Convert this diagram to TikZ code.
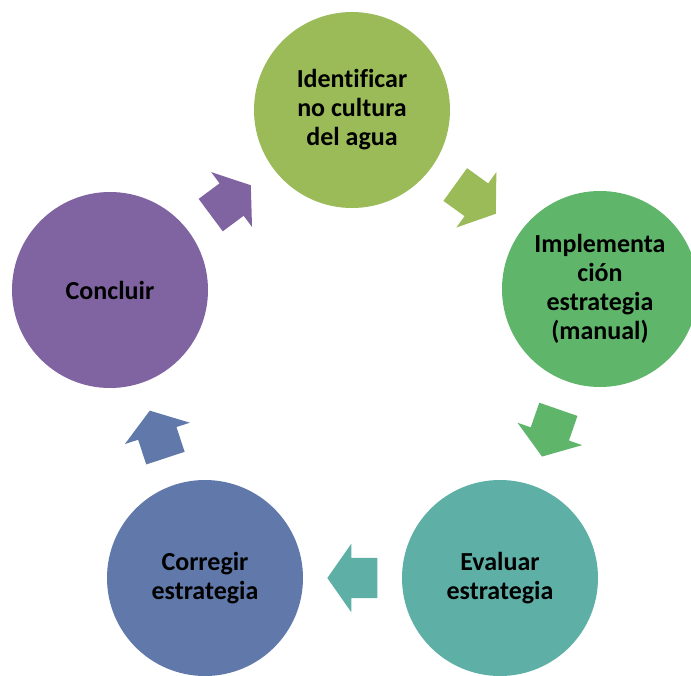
\documentclass[tikz,border=0pt]{standalone}
\usepackage{fontspec}
\setmainfont[Ligatures=NoCommon]{Carlito}
\usetikzlibrary{shapes.arrows}

\definecolor{OliveGreen}{RGB}{155,187,89}
\definecolor{LeafGreen}{RGB}{95,181,106}
\definecolor{SeaTeal}{RGB}{94,176,166}
\definecolor{SlateBlue}{RGB}{96,121,170}
\definecolor{Plum}{RGB}{128,100,162}

\tikzset{
  stage/.style={circle,minimum size=196pt,inner sep=0pt,align=center,
    font=\fontsize{26}{29}\selectfont\bfseries},
  turn/.style={single arrow,draw=none,fill=#1,inner xsep=0pt,inner ysep=20pt,
    minimum height=50pt,
    single arrow head extend=14pt,single arrow tip angle=110,
    sloped,allow upside down,pos=.43}
}

\begin{document}
\begin{tikzpicture}[x=1pt,y=-1pt]
\useasboundingbox (0,0) rectangle (691,675);
\clip (0,0) rectangle (691,675);

% the five stages
\node[stage,fill=OliveGreen] (identificar) at (352,110) {Identificar\\no cultura\\del agua};
\node[stage,fill=LeafGreen] (implementacion) at (600,289) {Implementa\\ción\\estrategia\\(manual)};
\node[stage,fill=SeaTeal] (evaluar) at (500,578) {Evaluar\\estrategia};
\node[stage,fill=SlateBlue] (corregir) at (205,578) {Corregir\\estrategia};
\node[stage,fill=Plum] (concluir) at (110,290) {Concluir};

% arrows between them
\path (identificar) -- (implementacion) node[turn=OliveGreen] (turnA) {};
\path (implementacion) -- (evaluar) node[turn=LeafGreen] (turnB) {};
\path (evaluar) -- (corregir) node[turn=SeaTeal] (turnC) {};
\path (corregir) -- (concluir) node[turn=SlateBlue] (turnD) {};
\path (concluir) -- (identificar) node[turn=Plum] (turnE) {};
\end{tikzpicture}
\end{document}
